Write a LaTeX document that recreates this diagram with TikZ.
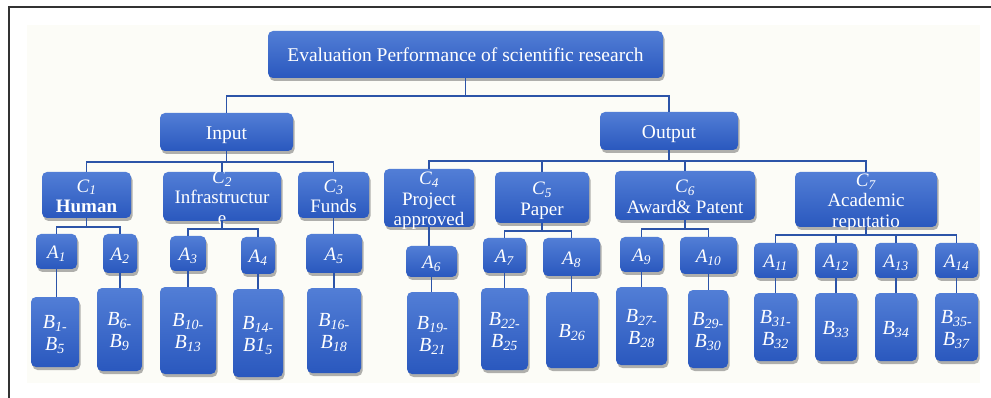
\documentclass[tikz,border=0pt]{standalone}
\usepackage{fontspec}
\setmainfont{Liberation Serif}
\usetikzlibrary{shadows}
\definecolor{boxtop}{RGB}{82,126,214}
\definecolor{boxbot}{RGB}{42,88,190}
\definecolor{linec}{RGB}{44,84,168}
\definecolor{paper}{RGB}{252,252,247}
\newcommand{\ix}[2]{\textit{#1}\textsubscript{\textit{#2}}}
\newcommand{\tx}[1]{\smash{\raisebox{-0.4em}{\begin{tabular}{@{}c@{}}#1\end{tabular}}}}
\begin{document}
\begin{tikzpicture}[x=1pt,y=-1pt,
  box/.style={rounded corners=5pt, top color=boxtop, bottom color=boxbot, draw=none,
    text=white, align=center, inner sep=0pt,
    drop shadow={shadow xshift=1.5pt, shadow yshift=-3pt, opacity=0.3, fill=black}},
  bigf/.style={font=\fontsize{19.5}{22}\selectfont},
  cf/.style={font=\fontsize{19}{20.5}\selectfont},
  af/.style={font=\fontsize{19}{20}\selectfont},
  bf/.style={font=\fontsize{20}{22}\selectfont},
  link/.style={draw=linec, line width=1.7pt}]
\useasboundingbox (0,0) rectangle (991,398);
\fill[white] (0,0) rectangle (991,398);
\fill[paper] (27,25) rectangle (980,383);
\draw[black!80, line width=1.5pt] (9,398) -- (9,7) -- (991,7);
% top levels
\node[box,bigf,minimum width=395pt,minimum height=47pt] (T) at (465.5,54.5) {\tx{Evaluation Performance of scientific research}};
\node[box,bigf,minimum width=133pt,minimum height=38pt] (In) at (226.5,132) {\tx{Input}};
\node[box,bigf,minimum width=138pt,minimum height=38pt] (Out) at (669,131) {\tx{Output}};
% C level
\node[box,cf,minimum width=89pt,minimum height=46pt] (C1) at (86.5,195) {\tx{\ix{C}{1}\\ \textbf{Human}}};
\node[box,cf,minimum width=118pt,minimum height=49pt] (C2) at (222,196.5) {\tx{\ix{C}{2}\\ Infrastructur\\ e}};
\node[box,cf,minimum width=71pt,minimum height=46pt] (C3) at (333.5,195) {\tx{\ix{C}{3}\\ Funds}};
\node[box,cf,minimum width=90pt,minimum height=58pt] (C4) at (429,198) {\tx{\ix{C}{4}\\ Project\\ approved}};
\node[box,cf,minimum width=94pt,minimum height=51pt] (C5) at (542,197.5) {\tx{\ix{C}{5}\\ Paper}};
\node[box,cf,minimum width=140pt,minimum height=49pt] (C6) at (685,195.5) {\tx{\ix{C}{6}\\ Award\& Patent}};
\node[box,cf,minimum width=142pt,minimum height=55pt] (C7) at (866,199.5) {\tx{\ix{C}{7}\\ Academic\\ reputatio}};
% A level
\node[box,af,minimum width=41pt,minimum height=35pt] (A1) at (56.5,251.5) {\tx{\ix{A}{1}}};
\node[box,af,minimum width=34pt,minimum height=39pt] (A2) at (120,253.5) {\tx{\ix{A}{2}}};
\node[box,af,minimum width=36pt,minimum height=35pt] (A3) at (188,253.5) {\tx{\ix{A}{3}}};
\node[box,af,minimum width=34pt,minimum height=37pt] (A4) at (258,255.5) {\tx{\ix{A}{4}}};
\node[box,af,minimum width=56pt,minimum height=39pt] (A5) at (334,253.5) {\tx{\ix{A}{5}}};
\node[box,af,minimum width=51pt,minimum height=31pt] (A6) at (431.5,261.5) {\tx{\ix{A}{6}}};
\node[box,af,minimum width=43pt,minimum height=35pt] (A7) at (504.5,255.5) {\tx{\ix{A}{7}}};
\node[box,af,minimum width=57pt,minimum height=38pt] (A8) at (571.5,257) {\tx{\ix{A}{8}}};
\node[box,af,minimum width=43pt,minimum height=35pt] (A9) at (641.5,254.5) {\tx{\ix{A}{9}}};
\node[box,af,minimum width=57pt,minimum height=37pt] (A10) at (708.5,255.5) {\tx{\ix{A}{10}}};
\node[box,af,minimum width=43pt,minimum height=35pt] (A11) at (775.5,260.5) {\tx{\ix{A}{11}}};
\node[box,af,minimum width=42pt,minimum height=35pt] (A12) at (836,260.5) {\tx{\ix{A}{12}}};
\node[box,af,minimum width=42pt,minimum height=35pt] (A13) at (896,260.5) {\tx{\ix{A}{13}}};
\node[box,af,minimum width=43pt,minimum height=35pt] (A14) at (956.5,260.5) {\tx{\ix{A}{14}}};
% B level
\node[box,bf,minimum width=48pt,minimum height=70pt] (B1) at (55,332) {\tx{\ix{B}{1-}\\ \ix{B}{5}}};
\node[box,bf,minimum width=45pt,minimum height=83pt] (B2) at (119.5,329.5) {\tx{\ix{B}{6-}\\ \ix{B}{9}}};
\node[box,bf,minimum width=56pt,minimum height=87pt] (B3) at (188,330.5) {\tx{\ix{B}{10-}\\ \ix{B}{13}}};
\node[box,bf,minimum width=50pt,minimum height=88pt] (B4) at (258,333) {\tx{\ix{B}{14-}\\ \ix{B1}{5}}};
\node[box,bf,minimum width=54pt,minimum height=85pt] (B5) at (334,330.5) {\tx{\ix{B}{16-}\\ \ix{B}{18}}};
\node[box,bf,minimum width=51pt,minimum height=82pt] (B6) at (432.5,333) {\tx{\ix{B}{19-}\\ \ix{B}{21}}};
\node[box,bf,minimum width=47pt,minimum height=82pt] (B7) at (504.5,329) {\tx{\ix{B}{22-}\\ \ix{B}{25}}};
\node[box,bf,minimum width=52pt,minimum height=76pt] (B8) at (572,330) {\tx{\ix{B}{26}}};
\node[box,bf,minimum width=51pt,minimum height=78pt] (B9) at (641.5,326) {\tx{\ix{B}{27-}\\ \ix{B}{28}}};
\node[box,bf,minimum width=40pt,minimum height=78pt] (B10) at (708,329) {\tx{\ix{B}{29-}\\ \ix{B}{30}}};
\node[box,bf,minimum width=43pt,minimum height=68pt] (B11) at (775.5,327) {\tx{\ix{B}{31-}\\ \ix{B}{32}}};
\node[box,bf,minimum width=42pt,minimum height=68pt] (B12) at (836,327) {\tx{\ix{B}{33}}};
\node[box,bf,minimum width=42pt,minimum height=68pt] (B13) at (896,327) {\tx{\ix{B}{34}}};
\node[box,bf,minimum width=43pt,minimum height=68pt] (B14) at (956.5,327) {\tx{\ix{B}{35-}\\ \ix{B}{37}}};
% bar levels
\coordinate (yT) at (0,96);
\coordinate (yIn) at (0,162);
\coordinate (yOut) at (0,161);
\coordinate (yC1) at (0,227);
\coordinate (yC2) at (0,229);
\coordinate (yC5) at (0,231);
\coordinate (yC6) at (0,229);
\coordinate (yC7) at (0,235);
% connectors
\draw[link] (T.south) -- (T.south |- yT) -| (In.north);
\draw[link] (T.south |- yT) -| (Out.north);
\foreach \c in {C1,C2,C3} \draw[link] (In.south) -- (In.south |- yIn) -| (\c.north);
\foreach \c in {C4,C5,C6,C7} \draw[link] (Out.south) -- (Out.south |- yOut) -| (\c.north);
\foreach \a in {A1,A2} \draw[link] (C1.south) -- (C1.south |- yC1) -| (\a.north);
\foreach \a in {A3,A4} \draw[link] (C2.south) -- (C2.south |- yC2) -| (\a.north);
\draw[link] (C3.south) -- (C3.south |- A5.north);
\draw[link] (C4.south) -- (C4.south |- A6.north);
\foreach \a in {A7,A8} \draw[link] (C5.south) -- (C5.south |- yC5) -| (\a.north);
\foreach \a in {A9,A10} \draw[link] (C6.south) -- (C6.south |- yC6) -| (\a.north);
\foreach \a in {A11,A12,A13,A14} \draw[link] (C7.south) -- (C7.south |- yC7) -| (\a.north);
\foreach \i in {1,...,14} \draw[link] (A\i.south) -- (A\i.south |- B\i.north);
\end{tikzpicture}
\end{document}
